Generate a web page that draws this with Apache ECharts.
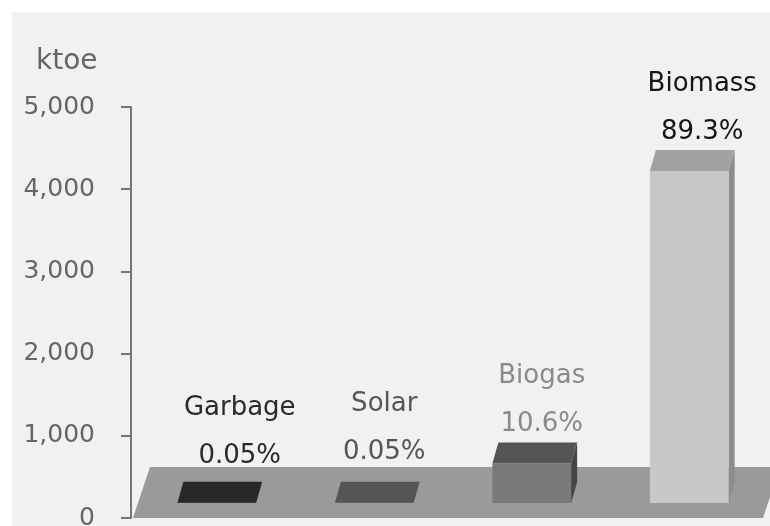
<!DOCTYPE html>
<html>
<head>
<meta charset="utf-8">
<script src="https://cdn.jsdelivr.net/npm/echarts@6/dist/echarts.min.js"></script>
<style>
  html, body { margin: 0; padding: 0; background: #ffffff; }
  #chart { position: absolute; left: 12px; top: 12px; width: 758px; height: 514px; background: #f1f1f1; }
</style>
</head>
<body>
<div id="chart"></div>
<script>
// Renewable heat consumption by source (ktoe) with each source's share of the total
const categories = ['Garbage', 'Solar', 'Biogas', 'Biomass'];
const consumption = [2.3, 2.3, 480, 4040];
const shareLabels = ['0.05%', '0.05%', '10.6%', '89.3%'];
const axisMin = 0;
const axisMax = 5000;
const axisStep = 1000;

// Shading of each column (front face, top face, side face) and of its caption
const columnShades = [
  { front: '#2c2c2c', top: '#282828', side: '#1c1c1c', text: '#2a2a2a' },
  { front: '#565656', top: '#555555', side: '#444444', text: '#555555' },
  { front: '#7a7a7a', top: '#555555', side: '#454545', text: '#8a8a8a' },
  { front: '#c8c8c8', top: '#a2a2a2', side: '#8c8c8c', text: '#151515' }
];
// Small caption nudges [dx, dy] so captions clear the perspective tops
const captionNudge = [[20, -8], [7, -12], [7, 0], [10, 0]];

// Oblique "3D" look: floor depth, column inset from the floor front, column depth
const FLOOR_DX = 17, FLOOR_DY = 51;
const INSET_DX = 5, INSET_DY = 15;
const DEPTH_DX = 6, DEPTH_DY = 21;
const FONT = '"DejaVu Sans", sans-serif';

const chart = echarts.init(document.getElementById('chart'), null, { renderer: 'canvas' });

function renderFloor(params, api) {
  const cs = params.coordSys;
  const y0 = api.coord([0, 0])[1];
  const x0 = cs.x, x1 = cs.x + cs.width;
  return {
    type: 'polygon',
    shape: { points: [[x0, y0], [x1, y0], [x1 + FLOOR_DX, y0 - FLOOR_DY], [x0 + FLOOR_DX, y0 - FLOOR_DY]] },
    style: { fill: '#9a9a9a' },
    silent: true
  };
}

function renderColumn(params, api) {
  const i = params.dataIndex;
  const idx = api.value(0);
  const val = api.value(1);
  const base = api.coord([idx, 0]);
  const top = api.coord([idx, val]);
  const band = api.size([1, 0])[0];
  const w = band * 0.5;
  const shade = columnShades[i];

  const xl = base[0] - w / 2 + INSET_DX;
  const xr = xl + w;
  const yb = base[1] - INSET_DY;
  const yt = top[1] - INSET_DY;

  const children = [
    {
      type: 'polygon',
      shape: { points: [[xr, yt], [xr + DEPTH_DX, yt - DEPTH_DY], [xr + DEPTH_DX, yb - DEPTH_DY], [xr, yb]] },
      style: { fill: shade.side }
    },
    {
      type: 'rect',
      shape: { x: xl, y: yt, width: w, height: Math.max(yb - yt, 0) },
      style: { fill: shade.front }
    },
    {
      type: 'polygon',
      shape: { points: [[xl, yt], [xr, yt], [xr + DEPTH_DX, yt - DEPTH_DY], [xl + DEPTH_DX, yt - DEPTH_DY]] },
      style: { fill: shade.top }
    }
  ];

  const nudge = captionNudge[i];
  const cx = (xl + xr) / 2 + DEPTH_DX / 2 + nudge[0];
  const shareY = yt - DEPTH_DY - 18 + nudge[1];
  children.push({
    type: 'text',
    style: { text: shareLabels[i], x: cx, y: shareY, align: 'center', verticalAlign: 'middle',
             fill: shade.text, font: '26px ' + FONT }
  });
  children.push({
    type: 'text',
    style: { text: categories[i], x: cx, y: shareY - 48, align: 'center', verticalAlign: 'middle',
             fill: shade.text, font: '26px ' + FONT }
  });
  return { type: 'group', children: children };
}

chart.setOption({
  animation: false,
  backgroundColor: '#f1f1f1',
  title: {
    text: 'ktoe',
    left: 24,
    top: 36,
    padding: 0,
    textStyle: { color: '#666666', fontSize: 28, fontWeight: 'normal', fontFamily: 'DejaVu Sans' }
  },
  grid: { left: 121, right: 7, top: 95, bottom: 8, outerBoundsMode: 'none', containLabel: false },
  xAxis: {
    type: 'category',
    data: categories,
    boundaryGap: true,
    show: false
  },
  yAxis: {
    type: 'value',
    min: axisMin,
    max: axisMax,
    interval: axisStep,
    offset: 2,
    axisLine: { show: true, lineStyle: { color: '#767676', width: 2 } },
    axisTick: { show: true, length: 10, lineStyle: { color: '#767676', width: 2 } },
    splitLine: { show: false },
    axisLabel: {
      margin: 36,
      color: '#666666',
      fontSize: 25,
      fontFamily: 'DejaVu Sans',
      padding: [7, 0, 0, 0],
      formatter: v => v.toLocaleString('en-US')
    }
  },
  series: [
    {
      type: 'custom',
      renderItem: renderFloor,
      data: [[0, 0]],
      clip: false,
      silent: true,
      z: 1
    },
    {
      type: 'custom',
      renderItem: renderColumn,
      encode: { x: 0, y: 1 },
      data: consumption.map((v, i) => [i, v]),
      clip: false,
      z: 2
    }
  ]
});
</script>
</body>
</html>
